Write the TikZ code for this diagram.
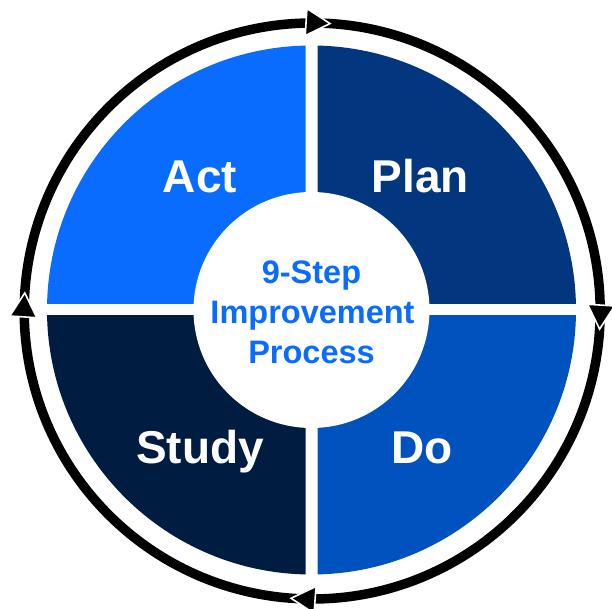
\documentclass[tikz,border=0pt]{standalone}
\usepackage{fontspec}
\setmainfont{Liberation Sans}
\definecolor{actblue}{HTML}{0A6CFF}
\definecolor{planblue}{HTML}{02367F}
\definecolor{doblue}{HTML}{0052BE}
\definecolor{studyblue}{HTML}{001C40}
\definecolor{centerblue}{HTML}{0A6CFF}
\tikzset{
  quadlabel/.style={text=white,font=\fontsize{46}{46}\selectfont\bfseries,anchor=base,inner sep=0pt},
  centerlabel/.style={text=centerblue,font=\fontsize{32.5}{32.5}\selectfont\bfseries,anchor=base,inner sep=0pt},
  ringarc/.style={line width=9.5pt,black,line cap=butt},
  tiphead/.style={fill=black,draw=white,line width=1.6pt,line join=miter},
}
\begin{document}
\begin{tikzpicture}[x=1pt,y=1pt]
\useasboundingbox (0,0) rectangle (612,608);
\coordinate (C) at (311.5,298);
\coordinate (R) at (312.2,297);
% quadrants
\begin{scope}
  \clip (0,304) rectangle (305.5,608);
  \fill[actblue] (C) circle[radius=264.5];
\end{scope}
\begin{scope}
  \clip (317.5,304) rectangle (612,608);
  \fill[planblue] (C) circle[radius=264.5];
\end{scope}
\begin{scope}
  \clip (317.5,0) rectangle (612,292);
  \fill[doblue] (C) circle[radius=264.5];
\end{scope}
\begin{scope}
  \clip (0,0) rectangle (305.5,292);
  \fill[studyblue] (C) circle[radius=264.5];
\end{scope}
\fill[white] (C) circle[radius=118];
% ring arcs
\draw[ringarc] (R) ++(177.9:288) arc[start angle=177.9, end angle=89.4, radius=288];
\draw[ringarc] (R) ++(87.95:288) arc[start angle=87.95, end angle=-0.6, radius=288];
\draw[ringarc] (R) ++(-2.1:288) arc[start angle=-2.1, end angle=-91.2, radius=288];
\draw[ringarc] (R) ++(-92.7:288) arc[start angle=-92.7, end angle=-180.6, radius=288];
% arrow heads
\foreach \a in {86.45,-3.6,-94.2,176.4}{
  \begin{scope}[shift={(R)},rotate=\a]
    \filldraw[tiphead] (288,0) -- (274.5,24) -- (301.5,24) -- cycle;
  \end{scope}
}
% labels
\node[quadlabel] (act) at (200,415) {Act};
\node[quadlabel] (plan) at (420.5,415) {Plan};
\node[quadlabel] (study) at (200,145) {Study};
\node[quadlabel] (do) at (422,145) {Do};
\node[centerlabel] (c1) at (311.5,324) {9-Step};
\node[centerlabel] (c2) at (312.5,284) {Improvement};
\node[centerlabel] (c3) at (311.5,245) {Process};
\end{tikzpicture}
\end{document}
